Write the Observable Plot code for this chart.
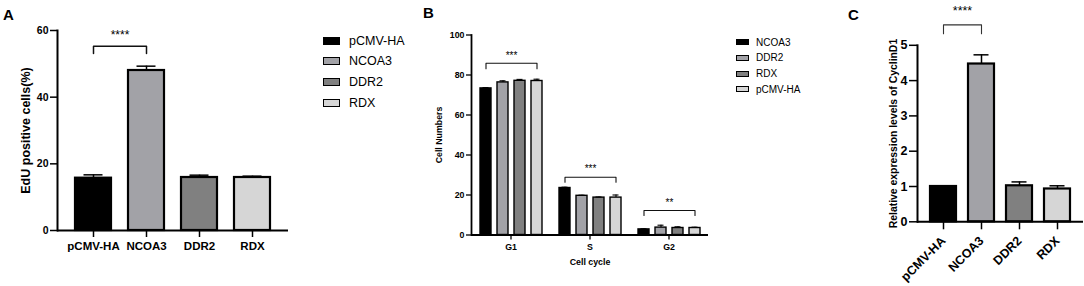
<!DOCTYPE html>
<html><head><meta charset="utf-8">
<script src="https://cdn.jsdelivr.net/npm/d3@7"></script>
<script src="https://cdn.jsdelivr.net/npm/@observablehq/plot@0.6"></script>
<style>
body{margin:0;background:#fff;}
#fig{position:relative;width:1084px;height:286px;overflow:hidden;background:#fff;font-family:'Liberation Sans',Arial,sans-serif;color:#000;}
#fig svg{position:absolute;top:0;overflow:visible;}
.letter{position:absolute;font-weight:bold;font-size:15px;line-height:1;}
.legend{position:absolute;}
.legend .row{display:flex;align-items:center;}
.sw{box-sizing:border-box;border:1.5px solid #000;}
</style></head><body><div id="fig"></div>
<script>
// ---------- shared ----------
const groups = ["pCMV-HA", "NCOA3", "DDR2", "RDX"];
const groupColors = ["#000000", "#a2a2a7", "#808080", "#d6d6d6"];

// ---------- panel A: EdU ----------
const eduValues = [15.7, 48.0, 15.9, 15.9];
const eduErrors = [1.0, 1.3, 0.7, 0.4];
const eduTicks = [0, 20, 40, 60];
const eduLabel = "EdU positive cells(%)";
const bracketsA = [{from: "pCMV-HA", to: "NCOA3", leg: 53.1, top: 55.3, star: 57.5, label: "****"}];

// ---------- panel B: cell cycle ----------
const phases = ["G1", "S", "G2"];
const seriesB = ["NCOA3", "DDR2", "RDX", "pCMV-HA"];
const seriesBColors = ["#000000", "#a2a2a7", "#808080", "#d6d6d6"];
const cycleNCOA3 = [73.3, 23.5, 2.8];
const cycleDDR2 = [76.3, 19.6, 3.7];
const cycleRDX = [77.1, 18.7, 3.5];
const cyclePCMV = [77.0, 18.7, 3.5];
const cycleErrNCOA3 = [0.4, 0.4, 0.3];
const cycleErrDDR2 = [0.8, 0.3, 1.2];
const cycleErrRDX = [0.7, 0.3, 0.6];
const cycleErrPCMV = [0.9, 1.3, 0.4];
const cycleTicks = [0, 20, 40, 60, 80, 100];
const bracketsB = [
  {fx: "G1", from: "NCOA3", to: "pCMV-HA", leg: 83.1, top: 85.9, star: 88.2, label: "***"},
  {fx: "S", from: "NCOA3", to: "pCMV-HA", leg: 26.4, top: 28.9, star: 31.5, label: "***"},
  {fx: "G2", from: "NCOA3", to: "pCMV-HA", leg: 9.75, top: 12.25, star: 14.4, label: "**"}
];

// ---------- panel C: CyclinD1 ----------
const cyclinValues = [1.0, 4.47, 1.02, 0.93];
const cyclinErrors = [0, 0.26, 0.11, 0.09];
const cyclinTicks = [0, 1, 2, 3, 4, 5];
const cyclinLabel = "Relative expression levels of CyclinD1";
const bracketsC = [{from: "pCMV-HA", to: "NCOA3", leg: 5.33, top: 5.58, star: 5.87, label: "****"}];

// ---------- tables ----------
const dataA = groups.map((g, i) => ({group: g, value: eduValues[i], hi: eduValues[i] + eduErrors[i]}));
const seriesValues = [cycleNCOA3, cycleDDR2, cycleRDX, cyclePCMV];
const seriesErrs = [cycleErrNCOA3, cycleErrDDR2, cycleErrRDX, cycleErrPCMV];
const dataB = seriesB.flatMap((s, i) => phases.map((p, j) => ({
  phase: p, series: s, value: seriesValues[i][j], hi: seriesValues[i][j] + seriesErrs[i][j]})));
const dataC = groups.map((g, i) => ({group: g, value: cyclinValues[i], hi: cyclinValues[i] + cyclinErrors[i], err: cyclinErrors[i]}));

const svgStyle = {fontFamily: "'Liberation Sans', Arial, sans-serif", fontWeight: "bold", color: "#000", background: "transparent", overflow: "visible"};

function midRender(index, scales, values, dimensions, context, next) {
  const X = Array.from(values.x);
  const keep = [];
  for (let j = 0; j + 1 < index.length; j += 2) {
    const a = index[j], b = index[j + 1];
    X[a] = (values.x[a] + values.x[b]) / 2;
    keep.push(a);
  }
  return next(keep, scales, {...values, x: X}, dimensions, context);
}

function bracketMarks(brackets, {faceted = false, strokeWidth = 1.5, fontSize = 12, stroke = "#111"} = {}) {
  const pts = brackets.flatMap((b, k) => [
    {k, fx: b.fx, x: b.from, y: b.leg},
    {k, fx: b.fx, x: b.from, y: b.top},
    {k, fx: b.fx, x: b.to, y: b.top},
    {k, fx: b.fx, x: b.to, y: b.leg}
  ]);
  const ends = brackets.flatMap((b, k) => [
    {k, fx: b.fx, x: b.from, y: b.star, label: b.label},
    {k, fx: b.fx, x: b.to, y: b.star, label: b.label}
  ]);
  const f = faceted ? {fx: "fx"} : {};
  return [
    Plot.line(pts, {x: "x", y: "y", z: "k", stroke, strokeWidth, ...f}),
    Plot.text(ends, {x: "x", y: "y", text: "label", lineAnchor: "bottom", fontSize, fontWeight: "normal", ...f, render: midRender})
  ];
}

const fig = document.getElementById("fig");

// ---------- Panel A ----------
const plotA = Plot.plot({
  width: 300, height: 286,
  marginLeft: 57, marginRight: 12, marginTop: 30, marginBottom: 56,
  style: svgStyle,
  x: {domain: groups, paddingInner: 0.33, paddingOuter: 0.33, label: null},
  y: {domain: [0, 60], label: null},
  color: {domain: groups, range: groupColors},
  marks: [
    Plot.barY(dataA, {x: "group", y: "value", fill: "group", stroke: "#000", strokeWidth: 2.2}),
    Plot.ruleX(dataA, {x: "group", y1: "value", y2: "hi", strokeWidth: 1.5}),
    Plot.tickY(dataA, {x: "group", y: "hi", strokeWidth: 1.5, insetLeft: 8.5, insetRight: 8.5}),
    Plot.ruleY([0], {strokeWidth: 2}),
    Plot.frame({anchor: "left", stroke: "#000", strokeWidth: 2}),
    Plot.axisY({ticks: eduTicks, tickFormat: "d", tickSize: 7, tickPadding: 2, fontSize: 10.5, strokeWidth: 1.5, label: null}),
    Plot.axisX({tickSize: 7, tickPadding: 4, fontSize: 11.5, strokeWidth: 1.5, label: null}),
    Plot.text([eduLabel], {text: d => d, frameAnchor: "left", textAnchor: "middle", rotate: -90, dx: -32, fontSize: 12.5}),
    ...bracketMarks(bracketsA, {strokeWidth: 1.5, fontSize: 12})
  ]
});
plotA.style.left = "0px";
fig.appendChild(plotA);

// ---------- Panel B ----------
const plotB = Plot.plot({
  width: 300, height: 286,
  marginLeft: 50, marginRight: 12, marginTop: 34.5, marginBottom: 51.5,
  style: svgStyle,
  fx: {domain: phases, padding: 0, label: null},
  x: {domain: seriesB, paddingInner: 0.375, paddingOuter: 0.44, axis: null},
  y: {domain: [0, 100], label: null},
  color: {domain: seriesB, range: seriesBColors},
  marks: [
    Plot.barY(dataB, {fx: "phase", x: "series", y: "value", fill: "series", stroke: "#000", strokeWidth: 1.4}),
    Plot.ruleX(dataB, {fx: "phase", x: "series", y1: "value", y2: "hi", strokeWidth: 1.1}),
    Plot.tickY(dataB, {fx: "phase", x: "series", y: "hi", strokeWidth: 1.1, insetLeft: 2.5, insetRight: 2.5}),
    Plot.ruleY([0], {strokeWidth: 1.8}),
    Plot.frame({anchor: "left", facetAnchor: "left", stroke: "#000", strokeWidth: 1.8}),
    Plot.axisY({ticks: cycleTicks, tickFormat: "d", tickSize: 5, tickPadding: 2, fontSize: 8.8, strokeWidth: 1.3,
      label: "Cell Numbers", labelAnchor: "center", labelOffset: 36, labelArrow: "none"}),
    Plot.axisFx({anchor: "bottom", tickSize: 5, tickPadding: 4, fontSize: 8.8, strokeWidth: 1.3,
      label: "Cell cycle", labelAnchor: "center", labelOffset: 30, labelArrow: "none"}),
    ...bracketMarks(bracketsB, {faceted: true, strokeWidth: 1.1, fontSize: 10})
  ]
});
plotB.style.left = "420px";
fig.appendChild(plotB);

// ---------- Panel C ----------
const plotC = Plot.plot({
  width: 244, height: 286,
  marginLeft: 77, marginRight: 1, marginTop: 44.8, marginBottom: 64.7,
  style: svgStyle,
  x: {domain: groups, paddingInner: 0.32, paddingOuter: 0.33, label: null},
  y: {domain: [0, 5], label: null},
  color: {domain: groups, range: groupColors},
  marks: [
    Plot.barY(dataC, {x: "group", y: "value", fill: "group", stroke: "#000", strokeWidth: 2.2}),
    Plot.ruleX(dataC.filter(d => d.err > 0), {x: "group", y1: "value", y2: "hi", strokeWidth: 1.5}),
    Plot.tickY(dataC.filter(d => d.err > 0), {x: "group", y: "hi", strokeWidth: 1.5, insetLeft: 5.5, insetRight: 5.5}),
    Plot.ruleY([0], {strokeWidth: 2}),
    Plot.frame({anchor: "left", stroke: "#000", strokeWidth: 2}),
    Plot.axisY({ticks: cyclinTicks, tickFormat: "d", tickSize: 8, tickPadding: 2, fontSize: 12.5, strokeWidth: 1.5, label: null}),
    Plot.axisX({tickSize: 8, tickPadding: 9, tickRotate: -45, fontSize: 12.5, strokeWidth: 1.5, label: null}),
    Plot.text([cyclinLabel], {text: d => d, frameAnchor: "left", textAnchor: "middle", rotate: -90, dx: -24, fontSize: 10.4}),
    ...bracketMarks(bracketsC, {strokeWidth: 1.1, fontSize: 12.5, stroke: "#333"})
  ]
});
plotC.style.left = "840px";
fig.appendChild(plotC);

// ---------- letters ----------
[["A", 3, 7], ["B", 423, 5], ["C", 848, 7]].forEach(([t, l, top]) => {
  const d = document.createElement("div");
  d.className = "letter"; d.textContent = t;
  d.style.left = l + "px"; d.style.top = top + "px";
  fig.appendChild(d);
});

// ---------- legends ----------
function legend(names, colors, {left, top, rowH, swW, swH, gap, fontSize, border}) {
  const box = document.createElement("div");
  box.className = "legend";
  box.style.left = left + "px"; box.style.top = top + "px";
  names.forEach((n, i) => {
    const row = document.createElement("div");
    row.className = "row"; row.style.height = rowH + "px";
    const sw = document.createElement("div");
    sw.className = "sw";
    sw.style.width = swW + "px"; sw.style.height = swH + "px";
    sw.style.background = colors[i]; sw.style.borderWidth = border + "px";
    sw.style.marginRight = gap + "px";
    const tx = document.createElement("span");
    tx.textContent = n; tx.style.fontSize = fontSize + "px";
    row.appendChild(sw); row.appendChild(tx);
    box.appendChild(row);
  });
  fig.appendChild(box);
}
legend(groups, groupColors, {left: 323, top: 30.3, rowH: 20.7, swW: 17, swH: 8, gap: 9, fontSize: 12.5, border: 1.5});
legend(seriesB, seriesBColors, {left: 736, top: 34.4, rowH: 15.7, swW: 13, swH: 6, gap: 7, fontSize: 10, border: 1.2});
</script></body></html>
